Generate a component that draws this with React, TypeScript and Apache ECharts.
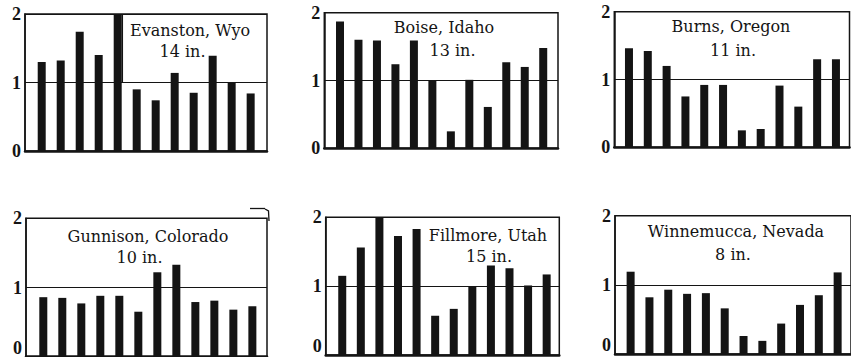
import React, { useEffect, useRef } from "react";
import * as echarts from "echarts";

const months = ["Jan", "Feb", "Mar", "Apr", "May", "Jun", "Jul", "Aug", "Sep", "Oct", "Nov", "Dec"];
const stations = ["Evanston, Wyo", "Boise, Idaho", "Burns, Oregon", "Gunnison, Colorado", "Fillmore, Utah", "Winnemucca, Nevada"];
const annualTotals = ["14 in.", "13 in.", "11 in.", "10 in.", "15 in.", "8 in."];

const evanston = [1.30, 1.32, 1.74, 1.40, 2.0, 0.90, 0.74, 1.14, 0.85, 1.39, 1.00, 0.84];
const boise = [1.87, 1.60, 1.59, 1.24, 1.59, 1.00, 0.25, 1.01, 0.61, 1.27, 1.20, 1.48];
const burns = [1.46, 1.42, 1.20, 0.75, 0.92, 0.92, 0.25, 0.27, 0.91, 0.60, 1.30, 1.30];
const gunnison = [0.86, 0.85, 0.77, 0.88, 0.88, 0.65, 1.22, 1.33, 0.79, 0.81, 0.68, 0.73];
const fillmore = [1.15, 1.56, 2.0, 1.73, 1.83, 0.57, 0.67, 0.99, 1.30, 1.26, 1.01, 1.17];
const winnemucca = [1.19, 0.82, 0.93, 0.87, 0.88, 0.66, 0.26, 0.19, 0.44, 0.71, 0.85, 1.18];

const seriesValues = [evanston, boise, burns, gunnison, fillmore, winnemucca];
const yMin = 0;
const yMax = 2;
const yInterval = 1;

// layout (pixels) of each small panel
const layouts = [
  { left: 25, top: 14, width: 242, height: 137, xMin: -0.88, xMax: 11.86, t1: [190, 30.5], t2: [182.5, 51], bottomRow: false },
  { left: 324.3, top: 12.7, width: 233.7, height: 135.6, xMin: -0.85, xMax: 11.8, t1: [444, 27], t2: [452.5, 50], bottomRow: false },
  { left: 614.3, top: 11.7, width: 235.2, height: 135.6, xMin: -0.78, xMax: 11.72, t1: [731, 26], t2: [733, 50], bottomRow: false },
  { left: 26, top: 218.3, width: 241, height: 138.4, xMin: -0.91, xMax: 11.77, t1: [148, 236.7], t2: [139.5, 257.5], bottomRow: true },
  { left: 325.7, top: 217.3, width: 233.6, height: 137.7, xMin: -0.89, xMax: 11.68, t1: [488, 235], t2: [489, 256.7], bottomRow: true },
  { left: 615, top: 215.7, width: 236, height: 138.3, xMin: -0.83, xMax: 11.71, t1: [736, 231.7], t2: [733, 254], bottomRow: true },
];

const INK = "#141414";

export default function App() {
  const ref = useRef<HTMLDivElement>(null);
  useEffect(() => {
    if (!ref.current) return;
    const chart = echarts.init(ref.current, undefined, { renderer: "svg" });
    const grid = layouts.map((l) => ({
      left: l.left,
      top: l.top,
      width: l.width,
      height: l.height,
      show: true,
      borderColor: INK,
      borderWidth: 1.5,
      backgroundColor: "transparent",
      containLabel: false,
      outerBoundsMode: "none",
    }));
    const xAxis = layouts.map((l, i) => ({
      type: "value",
      gridIndex: i,
      min: l.xMin,
      max: l.xMax,
      axisLine: { show: true, onZero: false, lineStyle: { color: INK, width: 2.5 } },
      axisTick: { show: false },
      axisLabel: { show: false },
      splitLine: { show: false },
    }));
    const yAxis = layouts.map((l, i) => ({
      type: "value",
      gridIndex: i,
      position: "left",
      min: yMin,
      max: yMax,
      interval: yInterval,
      axisLine: { show: true, onZero: false, lineStyle: { color: INK, width: 1.5 } },
      axisTick: { show: false },
      axisLabel: {
        show: true,
        margin: 4,
        color: INK,
        fontFamily: "Liberation Serif",
        fontWeight: "bold",
        fontSize: 18,
        verticalAlignMinLabel: l.bottomRow ? "bottom" : undefined,
      },
      splitLine: { show: true, lineStyle: { color: INK, width: 1.2 } },
    }));
    const series = seriesValues.map((vals, i) => ({
      type: "bar",
      name: stations[i],
      xAxisIndex: i,
      yAxisIndex: i,
      barWidth: 8,
      itemStyle: { color: INK },
      data: months.map((_, j) => [j, vals[j]]),
    }));
    const textStyle = {
      fill: INK,
      font: "16px 'DejaVu Serif'",
      align: "center",
      verticalAlign: "middle",
    };
    const graphic: any[] = [];
    layouts.forEach((l, i) => {
      graphic.push({
        type: "text",
        x: l.t1[0],
        y: l.t1[1],
        z: 100,
        style: { ...textStyle, text: stations[i] },
      });
      graphic.push({
        type: "text",
        x: l.t2[0],
        y: l.t2[1],
        z: 100,
        style: { ...textStyle, text: annualTotals[i] },
      });
    });
    // box edge beside the Evanston title
    graphic.push({
      type: "line",
      shape: { x1: 122.3, y1: 14, x2: 122.3, y2: 82.5 },
      style: { stroke: INK, lineWidth: 1.5 },
      z: 50,
    });
    // small mark above the Gunnison panel
    graphic.push({
      type: "line",
      shape: { x1: 250, y1: 208.5, x2: 265, y2: 208.5 },
      style: { stroke: INK, lineWidth: 1.3 },
    });
    graphic.push({
      type: "polyline",
      shape: { points: [[265, 209], [268.5, 211], [269, 221]] },
      style: { stroke: INK, lineWidth: 1.3, fill: "none" },
    });

    chart.setOption({
      animation: false,
      backgroundColor: "#ffffff",
      grid,
      xAxis,
      yAxis,
      series,
      graphic,
    } as any);
    return () => chart.dispose();
  }, []);
  return (
    <div
      ref={ref}
      style={{ position: "absolute", left: 0, top: 0, width: 851, height: 357, background: "#fff" }}
    />
  );
}
